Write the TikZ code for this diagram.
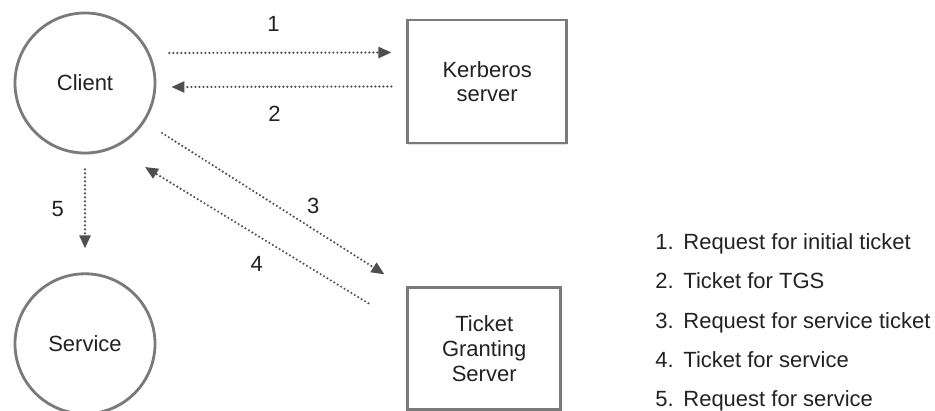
\documentclass[tikz,border=0pt]{standalone}
\usepackage{fontspec}
\setmainfont{Liberation Sans}
\usetikzlibrary{shapes.geometric, arrows.meta, positioning, shadows}
\definecolor{mline}{HTML}{7A7A7A}
\definecolor{marrow}{HTML}{4F4F4F}
\definecolor{mtext}{HTML}{222222}
\tikzstyle{party} = [circle, minimum size = 70pt, draw = mline, line width = 1.4pt, fill = white, text = mtext, drop shadow = {shadow xshift = 0.3pt, shadow yshift = -0.8pt, opacity = 0.25}]
\tikzstyle{server} = [rectangle, minimum width = 79.5pt, minimum height = 61.5pt, draw = mline, line width = 1.3pt, fill = white, text = mtext, align = center, drop shadow = {shadow xshift = 0.3pt, shadow yshift = -0.8pt, opacity = 0.25}]
\tikzstyle{msg} = [marrow, line width = 1.2pt, line cap = round, dash pattern = on 0pt off 2pt, -{Triangle[length = 6.5pt, width = 5.5pt]}]
\tikzstyle{msgnum} = [text = mtext, inner sep = 0pt, text height = 8pt, text depth = 0pt]
\tikzstyle{legend} = [text = mtext, inner sep = 0pt, text height = 8pt, text depth = 2.5pt]

\begin{document}
\begin{tikzpicture}[x = 0.5pt, y = 0.5pt, font = \fontsize{11}{12.3}\selectfont]
  \useasboundingbox (0,0) rectangle (935,411);
  \node (client) [party] at (85,328) {Client};
  \node (service) [party, below = 59pt of client] {Service};
  \node (kdc) [server, right = 125pt of client, yshift = 0.75pt] {Kerberos\\server};
  \node (tgs) [server, minimum width = 76.5pt, minimum height = 61pt, below = 71pt of kdc, xshift = -1.5pt] {Ticket\\Granting\\Server};
  \draw [msg] ([shift = {(13,30)}]client.east) -- node (num1) [msgnum, above = 10pt, xshift = -3.5pt] {1} ([shift = {(-15,29)}]kdc.west);
  \draw [msg] ([shift = {(-15,-5)}]kdc.west) -- node (num2) [msgnum, below = 9pt, xshift = -3.5pt] {2} ([shift = {(15,-4)}]client.east);
  \draw [msg] ([shift = {(77,-50)}]client.center) -- node (num3) [msgnum, xshift = 20pt, yshift = -1pt] {3} ([shift = {(-22,12)}]tgs.north west);
  \draw [msg] ([shift = {(-38,-17)}]tgs.north west) -- node (num4) [msgnum, yshift = -14pt] {4} ([shift = {(60,-84)}]client.center);
  \draw [msg] ([shift = {(0,-15)}]client.south) -- node (num5) [msgnum, left = 10pt] {5} ([shift = {(0,24)}]service.north);
  \node (item1) [legend, anchor = west] at (655,167) {\makebox[14pt][l]{1.}Request for initial ticket};
  \node (item2) [legend, below = 8.75pt of item1.south west, anchor = north west] {\makebox[14pt][l]{2.}Ticket for TGS};
  \node (item3) [legend, below = 8.75pt of item2.south west, anchor = north west] {\makebox[14pt][l]{3.}Request for service ticket};
  \node (item4) [legend, below = 8.75pt of item3.south west, anchor = north west] {\makebox[14pt][l]{4.}Ticket for service};
  \node (item5) [legend, below = 8.75pt of item4.south west, anchor = north west] {\makebox[14pt][l]{5.}Request for service};
\end{tikzpicture}
\end{document}
